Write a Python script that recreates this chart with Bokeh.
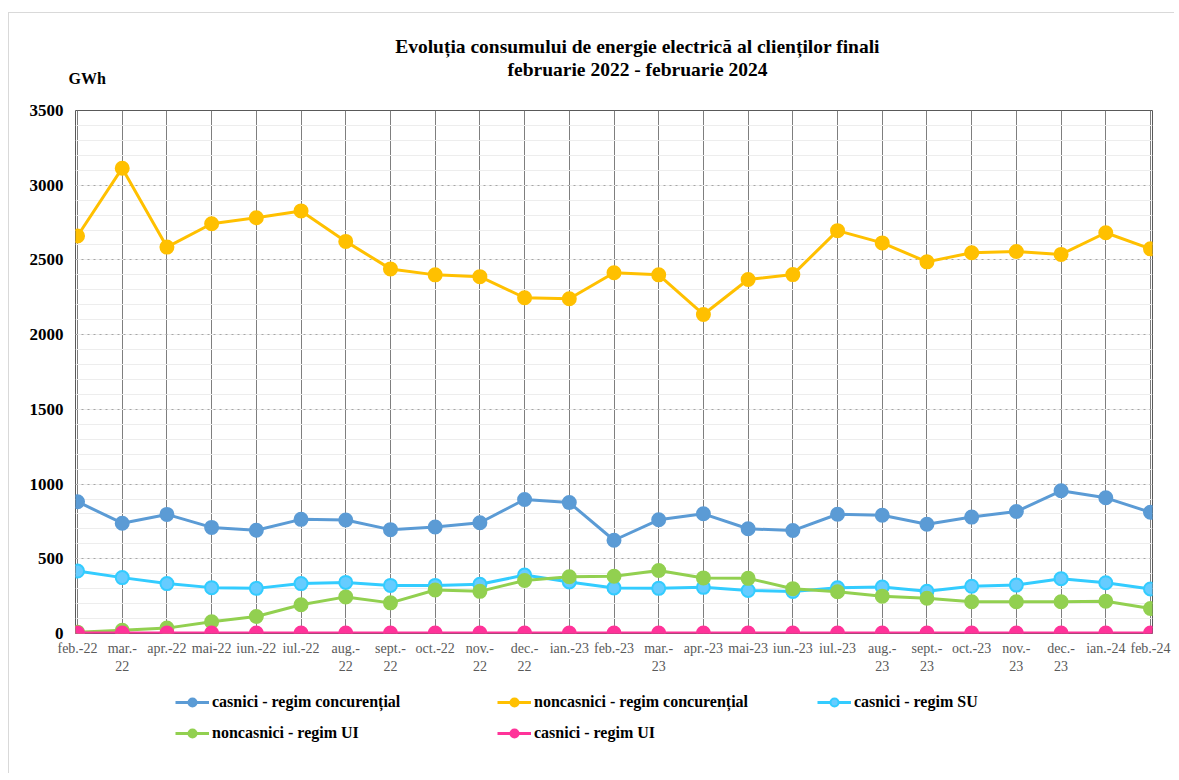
from bokeh.plotting import figure
from bokeh.layouts import column
from bokeh.models import (Range1d, FixedTicker, SingleIntervalTicker, Legend,
                          LegendItem, Label)
from bokeh.embed import file_html
from bokeh.resources import INLINE

# ---------------- data ----------------
months = ["feb.-22", "mar.-22", "apr.-22", "mai-22", "iun.-22", "iul.-22",
          "aug.-22", "sept.-22", "oct.-22", "nov.-22", "dec.-22", "ian.-23",
          "feb.-23", "mar.-23", "apr.-23", "mai-23", "iun.-23", "iul.-23",
          "aug.-23", "sept.-23", "oct.-23", "nov.-23", "dec.-23", "ian.-24",
          "feb.-24"]
wrapped_months = ["mar.-22", "aug.-22", "sept.-22", "nov.-22", "dec.-22",
                  "mar.-23", "aug.-23", "sept.-23", "nov.-23", "dec.-23"]

casnici_concurential = [882, 738, 797, 710, 691, 764, 760, 695, 713, 741, 897,
                        876, 624, 761, 801, 701, 689, 798, 791, 731, 779, 816,
                        955, 908, 811]
noncasnici_concurential = [2660, 3114, 2586, 2742, 2782, 2828, 2624, 2440, 2400,
                           2388, 2247, 2240, 2414, 2400, 2135, 2369, 2402, 2696,
                           2614, 2487, 2548, 2556, 2537, 2682, 2574]
casnici_SU = [418, 374, 334, 307, 302, 334, 342, 322, 322, 329, 391, 345, 305,
              302, 309, 288, 281, 306, 311, 282, 316, 324, 367, 340, 298]
noncasnici_UI = [9, 22, 36, 79, 114, 192, 245, 205, 291, 282, 355, 380, 383,
                 422, 372, 369, 300, 279, 250, 236, 212, 212, 212, 216, 167]
casnici_UI = [3, 3, 3, 3, 3, 3, 3, 3, 3, 3, 3, 3, 3, 3, 3, 3, 3, 3, 3, 3, 3,
              3, 3, 3, 3]

series = [
    ("casnici - regim concurențial", casnici_concurential, "#5B9BD5", "#5B9BD5"),
    ("noncasnici - regim concurențial", noncasnici_concurential, "#FFC000", "#FFC000"),
    ("casnici - regim SU", casnici_SU, "#33CCFF", "#66CCFF"),
    ("noncasnici - regim UI", noncasnici_UI, "#92D050", "#92D050"),
    ("casnici - regim UI", casnici_UI, "#FF3399", "#FF3399"),
]

title_lines = ["Evoluția consumului de energie electrică al clienților finali",
               "februarie 2022 - februarie 2024"]
unit_label = "GWh"

SERIF = "Liberation Serif"
W = 1165
x = list(range(len(months)))


def bare_figure(height, **kw):
    f = figure(width=W, height=height, output_backend="svg",
               toolbar_location=None, x_axis_location=None,
               y_axis_location=None, min_border=0, **kw)
    f.outline_line_color = None
    f.grid.visible = False
    f.background_fill_color = "white"
    f.border_fill_color = "white"
    return f


# ---------------- header (titles) ----------------
top = bare_figure(87, x_range=Range1d(0, 1), y_range=Range1d(0, 1))
for i, t in enumerate(title_lines):
    top.add_layout(Label(x=628, y=54 - 23 * i, x_units="screen", y_units="screen",
                         text=t, text_align="center", text_baseline="middle",
                         text_font=SERIF, text_font_size="19.5px",
                         text_font_style="bold", text_color="black"))
top.add_layout(Label(x=59, y=22, x_units="screen", y_units="screen",
                     text=unit_label, text_align="left", text_baseline="middle",
                     text_font=SERIF, text_font_size="16px",
                     text_font_style="bold", text_color="black"))

# ---------------- main chart ----------------
p = figure(width=W, height=583, output_backend="svg", toolbar_location=None,
           x_range=Range1d(-0.045, len(months) - 1 + 0.045),
           y_range=Range1d(0, 3500))
p.min_border_left = 66
p.min_border_right = 22
p.min_border_top = 10
p.min_border_bottom = 50
p.background_fill_color = "white"
p.border_fill_color = "white"
p.outline_line_color = "#595959"
p.outline_line_width = 1

p.xaxis.ticker = FixedTicker(ticks=x)
p.xaxis.major_label_overrides = {
    i: (m.replace(".-", ".-\n") if m in wrapped_months else m)
    for i, m in enumerate(months)
}
p.xaxis.major_label_text_font = SERIF
p.xaxis.major_label_text_font_size = "14px"
p.xaxis.major_label_text_color = "#595959"
p.xaxis.major_label_standoff = 1
p.xaxis.axis_line_color = None
p.xaxis.major_tick_line_color = None
p.xaxis.minor_tick_line_color = None

yt = SingleIntervalTicker(interval=500, num_minor_ticks=5)
p.yaxis.ticker = yt
p.yaxis.major_label_text_font = SERIF
p.yaxis.major_label_text_font_size = "17px"
p.yaxis.major_label_text_font_style = "bold"
p.yaxis.major_label_text_color = "black"
p.yaxis.major_label_standoff = 6
p.yaxis.axis_line_color = None
p.yaxis.major_tick_line_color = None
p.yaxis.minor_tick_line_color = None

p.xgrid.ticker = FixedTicker(ticks=x)
p.xgrid.grid_line_color = "#7F7F7F"
p.xgrid.grid_line_width = 1
p.ygrid.ticker = yt
p.ygrid.grid_line_color = "#A6A6A6"
p.ygrid.grid_line_dash = "dotted"
p.ygrid.minor_grid_line_color = "#EDEDED"
p.ygrid.minor_grid_line_width = 1

for name, vals, col, fill in series:
    p.line(x, vals, line_color=col, line_width=3)
    p.scatter(x, vals, size=13, marker="circle", fill_color=fill,
              line_color=col, line_width=2)

# ---------------- legend strip ----------------
leg = bare_figure(90, x_range=Range1d(1000, 1001), y_range=Range1d(0, 1))
leg.min_border_left = 66
leg.min_border_right = 22
items = {}
for name, vals, col, fill in series:
    ln = leg.line(x, vals, line_color=col, line_width=3)
    sc = leg.scatter(x, vals, size=11, marker="circle", fill_color=fill,
                     line_color=col, line_width=2)
    items[name] = LegendItem(label=name, renderers=[ln, sc])


def make_legend(names, loc):
    lg = Legend(items=[items[n] for n in names], location=loc,
                orientation="vertical", glyph_width=34, glyph_height=20,
                label_standoff=3, spacing=11, padding=0, margin=0,
                border_line_color=None, background_fill_alpha=0,
                label_text_font=SERIF, label_text_font_size="16px",
                label_text_font_style="bold", label_text_color="black")
    leg.add_layout(lg, "center")


make_legend(["casnici - regim concurențial", "noncasnici - regim UI"], (100, 30))
make_legend(["noncasnici - regim concurențial", "casnici - regim UI"], (422, 30))
make_legend(["casnici - regim SU"], (742, 61))

layout = column(column(top, spacing=0), p, leg, spacing=0,
                styles={"margin-left": "8px", "margin-top": "12px",
                        "border-left": "1px solid #D9D9D9",
                        "border-top": "1px solid #D9D9D9"})

open("out.html", "w").write(file_html(layout, INLINE))
